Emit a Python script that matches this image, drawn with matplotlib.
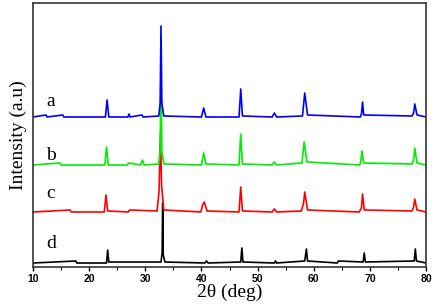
import matplotlib.pyplot as plt

# XRD patterns: 2theta (deg) and intensity above each baseline (a.u.)
theta_a = [10, 12.3, 12.5, 15.3, 15.5, 22.9, 23.2, 23.5, 26.9, 27.1, 27.3, 29.4, 29.6,
           32.4, 32.65, 32.8, 32.95, 33.3, 40.0, 40.4, 40.8, 46.7, 47.0, 47.3,
           52.6, 53.0, 53.4, 58.0, 58.4, 58.9, 68.3, 68.5, 68.7, 68.9, 77.5, 77.8, 78.0, 78.4, 80]
int_a = [1, 3, 1, 3, 1, 1, 18, 1, 1, 4, 1, 3, 1,
         2, 15, 92, 15, 2, 1, 10, 1, 1, 29, 2,
         1, 5, 1, 2, 25, 3, 1, 4, 16, 3, 2, 5, 14, 3, 1]

theta_b = [10, 14.8, 15.0, 22.8, 23.1, 23.4, 26.8, 27.0, 29.2, 29.5, 29.8,
           32.4, 32.65, 32.8, 32.95, 33.3, 40.0, 40.4, 40.8, 46.7, 47.0, 47.3,
           52.6, 53.0, 53.4, 57.9, 58.3, 58.8, 68.2, 68.4, 68.6, 68.9, 77.5, 77.8, 78.0, 78.4, 80]
int_b = [1, 3, 1, 1, 19, 1, 1, 3, 1, 6, 1,
         2, 15, 103, 15, 2, 1, 13, 2, 1, 32, 2,
         1, 4, 1, 3, 24, 4, 1, 5, 15, 3, 2, 6, 18, 3, 1]

theta_c = [10, 16.6, 16.8, 22.7, 23.0, 23.3, 27.0, 27.2, 32.1, 32.45, 32.7, 32.9, 33.3,
           39.9, 40.2, 40.5, 41.0, 46.7, 47.0, 47.3, 52.6, 53.0, 53.4,
           57.8, 58.2, 58.4, 58.9, 68.1, 68.5, 68.7, 69.0, 77.5, 77.8, 78.0, 78.4, 80]
int_c = [1, 3, 1, 1, 18, 2, 1, 3, 2, 22, 80, 28, 3,
         1, 8, 11, 2, 1, 26, 2, 1, 4, 1,
         2, 10, 21, 3, 1, 5, 19, 3, 2, 6, 14, 3, 1]

theta_d = [10, 17.6, 17.8, 23.1, 23.3, 23.5, 32.8, 33.0, 33.1, 33.2, 33.5,
           40.6, 40.9, 41.2, 47.0, 47.2, 47.4, 53.0, 53.2, 53.4,
           58.4, 58.7, 58.9, 64.2, 64.4, 68.8, 69.0, 69.2, 77.9, 78.1, 78.3, 80]
int_d = [0, 2, 0, 0, 13, 1, 1, 10, 60, 8, 1,
         0, 2, 0, 1, 15, 1, 0, 2, 0,
         2, 14, 2, 0, 2, 1, 10, 1, 2, 14, 2, 0]

labels = ['a', 'b', 'c', 'd']
baselines = [149, 101, 54, 4]
colors = ['#0000ff', '#00ee00', '#ff0000', '#000000']
series = [(theta_a, int_a), (theta_b, int_b), (theta_c, int_c), (theta_d, int_d)]
label_y = [165, 111, 74, 24]

fig = plt.figure(figsize=(4.34, 3.08), dpi=100)
ax = fig.add_axes([33 / 434, 41 / 308, 393 / 434, 264 / 308])

for i in [3, 2, 1, 0]:
    x, y = series[i]
    ax.plot(x, [v + baselines[i] for v in y], color=colors[i], lw=1.2)
    ax.text(12.4, label_y[i], labels[i], family='Liberation Serif', fontsize=14,
            ha='left', va='center')

ax.set_xlim(10, 80)
ax.set_ylim(0, 264)
ax.set_yticks([])
ax.set_xticks(range(10, 81, 10))
ax.set_xticks(range(15, 80, 10), minor=True)
ax.tick_params(axis='x', which='major', direction='out', length=3, width=1, pad=2,
               labelsize=7.5)
ax.tick_params(axis='x', which='minor', direction='out', length=2, width=0.8)
for lab in ax.get_xticklabels():
    lab.set_family('Liberation Sans')
    lab.set_fontweight('bold')
for s in ax.spines.values():
    s.set_color('#333333')
    s.set_linewidth(1.2)

ax.set_xlabel('2θ (deg)', family='Liberation Serif', fontsize=14, labelpad=0)
ax.set_ylabel('Intensity (a.u)', family='Liberation Serif', fontsize=14, labelpad=4)

fig.savefig('out.png', dpi=100)
